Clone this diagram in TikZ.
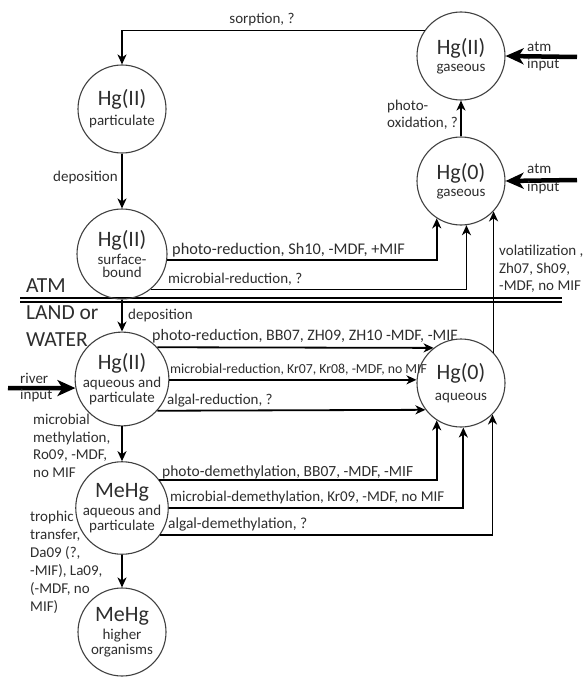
\documentclass[tikz,border=0pt]{standalone}
\usepackage{fontspec}
\setmainfont{Carlito}
\usetikzlibrary{arrows.meta,calc}
\definecolor{txt}{HTML}{2E2E2E}
\definecolor{circ}{HTML}{404040}
\newcommand\titfs{\fontsize{22}{24}\selectfont}
\newcommand\subfs{\fontsize{15}{17}\selectfont}
\begin{document}
\begin{tikzpicture}[x=1pt,y=1pt,
  st/.style={circle, draw=circ, line width=1.1pt, minimum size=88pt, inner sep=0pt, align=center, text=txt},
  arr/.style={-{Stealth[length=10pt,width=9pt,inset=3pt]}, line width=1.8pt},
  bigarr/.style={-{Stealth[length=18pt,width=16pt,inset=5pt]}, line width=4.5pt},
  lab/.style={text=txt, font=\fontsize{15}{17.5}\selectfont, inner sep=0pt},
  labs/.style={text=txt, font=\fontsize{13.8}{16}\selectfont, inner sep=0pt},
  zone/.style={text=txt, font=\fontsize{21.5}{24}\selectfont, inner sep=0pt, anchor=west}]
\useasboundingbox (0,0) rectangle (585,-677);
% ATM / LAND boundary
\coordinate (dl1) at (20,-300);
\coordinate (dl2) at (562,-300);
\draw[line width=1.3pt, double distance=2.6pt] (dl1) -- (dl2);
\node[zone] (tatm) at (26,-286) {ATM};
\node[zone] (tland) at (26,-313) {LAND or};
\node[zone] (twater) at (26,-340) {WATER};
% species
\node[st] (pII) at (122,-109) {\titfs Hg(II)\\[5pt]\subfs particulate};
\node[st] (gII) at (461,-56) {\titfs Hg(II)\\[5pt]\subfs gaseous};
\node[st] (g0) at (461,-181) {\titfs Hg(0)\\[5pt]\subfs gaseous};
\node[st, minimum size=90pt] (sII) at (122,-254) {\titfs Hg(II)\\[3pt]\subfs surface-\\[1pt]\subfs bound};
\node[st, minimum size=92pt] (aqII) at (122,-379) {\titfs Hg(II)\\[3pt]\subfs aqueous and\\[1pt]\subfs particulate};
\node[st] (aq0) at (461,-383) {\titfs Hg(0)\\[9pt]\subfs aqueous};
\node[st, minimum size=90pt] (me) at (122,-508) {\titfs MeHg\\[3pt]\subfs aqueous and\\[1pt]\subfs particulate};
\node[st] (meh) at (122,-632) {\titfs MeHg\\[3pt]\subfs higher\\[1pt]\subfs organisms};
% atmosphere
\draw[arr] (gII.145) -| (pII.north);
\node[lab] (lsorp) at (262,-20) {sorption, ?};
\draw[arr] (pII.south) -- (sII.north);
\node[lab, anchor=east] (ldep1) at (118,-177) {deposition};
\draw[arr] (g0.north) -- (gII.south);
\node[lab, align=left, anchor=west] (lox) at (387,-115) {photo-\\oxidation, ?};
\coordinate (atm1) at (577,-57);
\coordinate (atm2) at (577,-180);
\draw[bigarr] (atm1) -- (gII.east);
\draw[bigarr] (atm2) -- (g0.east);
\node[lab, anchor=west] (latm1a) at (527,-47) {atm};
\node[lab, anchor=west] (latm1b) at (527,-65) {input};
\node[lab, anchor=west] (latm2a) at (527,-169) {atm};
\node[lab, anchor=west] (latm2b) at (527,-188) {input};
\draw[arr] (sII.-8) -| (g0.237);
\node[lab, anchor=west, font=\fontsize{16.3}{18}\selectfont] (lphs) at (172,-250) {photo-reduction, Sh10, -MDF, +MIF};
\draw[arr] (sII.-51) -| (g0.277);
\node[lab, anchor=west] (lmis) at (168,-279) {microbial-reduction, ?};
\draw[arr] (aq0.43) -- (g0.-43);
\node[lab, align=left, anchor=west] (lvol) at (499,-269) {volatilization ,\\Zh07, Sh09,\\-MDF, no MIF};
% land / water
\draw[arr] (sII.south) -- (aqII.north);
\node[lab, anchor=west] (ldep2) at (128,-315) {deposition};
\coordinate (riv) at (8,-388);
\draw[bigarr] (riv) -- (aqII.191);
\node[lab, anchor=west] (lriva) at (20,-378) {river};
\node[lab, anchor=west] (lrivb) at (20,-396) {input};
\draw[arr] (aqII.42) -- (aq0.128);
\node[lab, anchor=west, font=\fontsize{16}{18}\selectfont] (lpra) at (152,-336) {photo-reduction, BB07, ZH09, ZH10 -MDF, -MIF};
\draw[arr] (aqII.-1) -- (aqII.-1 -| aq0.west);
\node[labs, anchor=west] (lmra) at (170,-370) {microbial-reduction, Kr07, Kr08, -MDF, no MIF};
\draw[arr] (aqII.-42) -- (aq0.217);
\node[lab, anchor=west] (lalra) at (167,-401) {algal-reduction, ?};
\draw[arr] (aqII.south) -- (me.north);
\node[lab, align=left, anchor=north west] (lmeth) at (33,-414) {microbial\\methylation,\\Ro09, -MDF,\\no MIF};
\draw[arr] (me.37) -| (aq0.237);
\node[lab, anchor=west, font=\fontsize{15.5}{18}\selectfont] (lpdm) at (162,-472) {photo-demethylation, BB07, -MDF, -MIF};
\draw[arr] (me.east) -| (aq0.273);
\node[lab, anchor=west] (lmdm) at (170,-497) {microbial-demethylation, Kr09, -MDF, no MIF};
\draw[arr] (me.-35) -| (aq0.315);
\node[lab, anchor=west, font=\fontsize{15.4}{18}\selectfont] (ladm) at (168,-524) {algal-demethylation, ?};
\draw[arr] (me.south) -- (meh.north);
\node[lab, align=left, anchor=north west, font=\fontsize{15}{18}\selectfont] (ltro) at (30,-511) {trophic\\transfer,\\Da09 (?,\\-MIF), La09,\\(-MDF, no\\MIF)};
\end{tikzpicture}
\end{document}
